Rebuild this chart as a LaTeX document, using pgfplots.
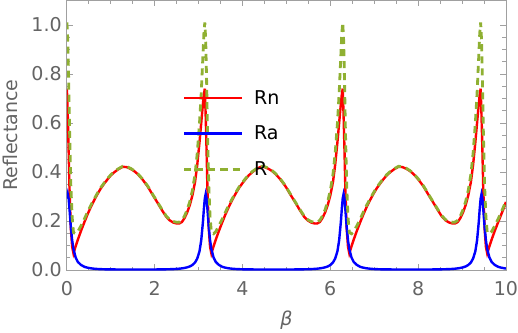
\documentclass[border=0pt]{standalone}
\usepackage{fontspec}
\setmainfont{DejaVu Sans}
\usepackage{pgfplots}
\pgfplotsset{compat=1.18}
\usepackage{pgfplotstable}

\definecolor{mred}{rgb}{1,0,0}
\definecolor{mblue}{rgb}{0,0,1}
\definecolor{mgreen}{RGB}{143,176,50}
\definecolor{frameg}{RGB}{160,160,160}
\definecolor{labg}{RGB}{100,100,100}

% beta, Rn, Ra, R
\pgfplotstableread{
beta Rn Ra R
0.0000 0.740 0.292 1.010
0.0200 0.630 0.310 0.940
0.0400 0.490 0.292 0.782
0.0600 0.330 0.248 0.578
0.0900 0.170 0.176 0.346
0.1200 0.095 0.121 0.216
0.1500 0.068 0.085 0.153
0.2000 0.097 0.051 0.148
0.2500 0.124 0.033 0.157
0.3200 0.159 0.021 0.180
0.4000 0.196 0.013 0.209
0.4700 0.227 0.0095 0.2365
0.5500 0.259 0.0069 0.266
0.6250 0.286 0.0053 0.291
0.7000 0.311 0.0042 0.315
0.7800 0.335 0.0035 0.3385
0.8600 0.355 0.003 0.358
0.9300 0.371 0.003 0.374
1.0000 0.386 0.0025 0.3885
1.0800 0.399 0.0025 0.4015
1.1700 0.411 0.002 0.413
1.2700 0.421 0.002 0.423
1.3600 0.420 0.002 0.422
1.4500 0.413 0.002 0.415
1.5300 0.404 0.002 0.406
1.6100 0.392 0.002 0.394
1.7200 0.370 0.002 0.372
1.8400 0.341 0.002 0.343
1.9500 0.308 0.0022 0.310
2.0700 0.273 0.0024 0.275
2.1700 0.243 0.0027 0.246
2.2600 0.218 0.003 0.221
2.3400 0.203 0.0033 0.206
2.4200 0.194 0.0038 0.198
2.5000 0.190 0.0046 0.195
2.5600 0.190 0.0055 0.1955
2.6200 0.196 0.0068 0.203
2.6800 0.212 0.0085 0.2205
2.7400 0.235 0.011 0.246
2.8000 0.265 0.0146 0.2796
2.8600 0.305 0.0206 0.3256
2.9200 0.360 0.031 0.391
2.9700 0.430 0.047 0.477
3.0200 0.520 0.076 0.596
3.0600 0.600 0.121 0.721
3.1000 0.680 0.198 0.878
3.1200 0.715 0.248 0.963
3.1416 0.740 0.292 1.010
3.1616 0.630 0.310 0.940
3.1816 0.490 0.292 0.782
3.2016 0.330 0.248 0.578
3.2316 0.170 0.176 0.346
3.2616 0.095 0.121 0.216
3.2916 0.068 0.085 0.153
3.3416 0.097 0.051 0.148
3.3916 0.124 0.033 0.157
3.4616 0.159 0.021 0.180
3.5416 0.196 0.013 0.209
3.6116 0.227 0.0095 0.2365
3.6916 0.259 0.0069 0.266
3.7666 0.286 0.0053 0.291
3.8416 0.311 0.0042 0.315
3.9216 0.335 0.0035 0.3385
4.0016 0.355 0.003 0.358
4.0716 0.371 0.003 0.374
4.1416 0.386 0.0025 0.3885
4.2216 0.399 0.0025 0.4015
4.3116 0.411 0.002 0.413
4.4116 0.421 0.002 0.423
4.5016 0.420 0.002 0.422
4.5916 0.413 0.002 0.415
4.6716 0.404 0.002 0.406
4.7516 0.392 0.002 0.394
4.8616 0.370 0.002 0.372
4.9816 0.341 0.002 0.343
5.0916 0.308 0.0022 0.310
5.2116 0.273 0.0024 0.275
5.3116 0.243 0.0027 0.246
5.4016 0.218 0.003 0.221
5.4816 0.203 0.0033 0.206
5.5616 0.194 0.0038 0.198
5.6416 0.190 0.0046 0.195
5.7016 0.190 0.0055 0.1955
5.7616 0.196 0.0068 0.203
5.8216 0.212 0.0085 0.2205
5.8816 0.235 0.011 0.246
5.9416 0.265 0.0146 0.2796
6.0016 0.305 0.0206 0.3256
6.0616 0.360 0.031 0.391
6.1116 0.430 0.047 0.477
6.1616 0.520 0.076 0.596
6.2016 0.600 0.121 0.721
6.2416 0.680 0.198 0.878
6.2616 0.715 0.248 0.963
6.2832 0.740 0.292 1.010
6.3032 0.630 0.310 0.940
6.3232 0.490 0.292 0.782
6.3432 0.330 0.248 0.578
6.3732 0.170 0.176 0.346
6.4032 0.095 0.121 0.216
6.4332 0.068 0.085 0.153
6.4832 0.097 0.051 0.148
6.5332 0.124 0.033 0.157
6.6032 0.159 0.021 0.180
6.6832 0.196 0.013 0.209
6.7532 0.227 0.0095 0.2365
6.8332 0.259 0.0069 0.266
6.9082 0.286 0.0053 0.291
6.9832 0.311 0.0042 0.315
7.0632 0.335 0.0035 0.3385
7.1432 0.355 0.003 0.358
7.2132 0.371 0.003 0.374
7.2832 0.386 0.0025 0.3885
7.3632 0.399 0.0025 0.4015
7.4532 0.411 0.002 0.413
7.5532 0.421 0.002 0.423
7.6432 0.420 0.002 0.422
7.7332 0.413 0.002 0.415
7.8132 0.404 0.002 0.406
7.8932 0.392 0.002 0.394
8.0032 0.370 0.002 0.372
8.1232 0.341 0.002 0.343
8.2332 0.308 0.0022 0.310
8.3532 0.273 0.0024 0.275
8.4532 0.243 0.0027 0.246
8.5432 0.218 0.003 0.221
8.6232 0.203 0.0033 0.206
8.7032 0.194 0.0038 0.198
8.7832 0.190 0.0046 0.195
8.8432 0.190 0.0055 0.1955
8.9032 0.196 0.0068 0.203
8.9632 0.212 0.0085 0.2205
9.0232 0.235 0.011 0.246
9.0832 0.265 0.0146 0.2796
9.1432 0.305 0.0206 0.3256
9.2032 0.360 0.031 0.391
9.2532 0.430 0.047 0.477
9.3032 0.520 0.076 0.596
9.3432 0.600 0.121 0.721
9.3832 0.680 0.198 0.878
9.4032 0.715 0.248 0.963
9.4248 0.740 0.292 1.010
9.4448 0.630 0.310 0.940
9.4648 0.490 0.292 0.782
9.4848 0.330 0.248 0.578
9.5148 0.170 0.176 0.346
9.5448 0.095 0.121 0.216
9.5748 0.068 0.085 0.153
9.6248 0.097 0.051 0.148
9.6748 0.124 0.033 0.157
9.7448 0.159 0.021 0.180
9.8248 0.196 0.013 0.209
9.8948 0.227 0.0095 0.2365
9.9748 0.263 0.0069 0.270
10.000 0.278 0.0063 0.284
}\refl

\begin{document}
\begin{tikzpicture}
\begin{axis}[
  scale only axis,
  width=437bp, height=268.4bp,
  xmin=0, xmax=10, ymin=0, ymax=1.1,
  xtick={0,2,4,6,8,10},
  ytick={0,0.2,0.4,0.6,0.8,1.0},
  minor x tick num=3, minor y tick num=3,
  tick align=inside,
  major tick length=6bp, minor tick length=3.5bp,
  axis line style={frameg, line width=0.8bp},
  every tick/.style={frameg, line width=0.8bp},
  /pgf/number format/assume math mode=true,
  yticklabel style={/pgf/number format/fixed, /pgf/number format/fixed zerofill,
    /pgf/number format/precision=1},
  tick label style={font=\fontsize{19}{22}\selectfont, text=labg, inner sep=0pt},
  xticklabel shift=11bp, yticklabel shift=5bp,
  xlabel={\textit{β}}, ylabel={Reflectance},
  label style={font=\fontsize{19}{22}\selectfont, text=labg},
  xlabel style={at={(axis description cs:0.5,-0.186)}, anchor=center},
  ylabel style={at={(axis description cs:-0.128,0.5)}, anchor=center},
  legend image code/.code={\draw[#1] (0bp,0bp) -- (57bp,0bp);},
  legend cell align=left,
  legend style={draw=none, fill=none, at={(axis description cs:0.257,0.674)},
    anchor=north west, font=\fontsize{19}{22}\selectfont, row sep=20bp,
    nodes={inner sep=0pt},
    /tikz/every odd column/.append style={column sep=11bp}},
]
\addplot[mred, line width=2.4bp] table[x=beta, y=Rn] {\refl};
\addplot[mblue, line width=2.4bp] table[x=beta, y=Ra] {\refl};
\addplot[mgreen, line width=2.8bp, dash pattern=on 7bp off 5bp] table[x=beta, y=R] {\refl};
\legend{Rn, Ra, R}
\end{axis}
\end{tikzpicture}
\end{document}
